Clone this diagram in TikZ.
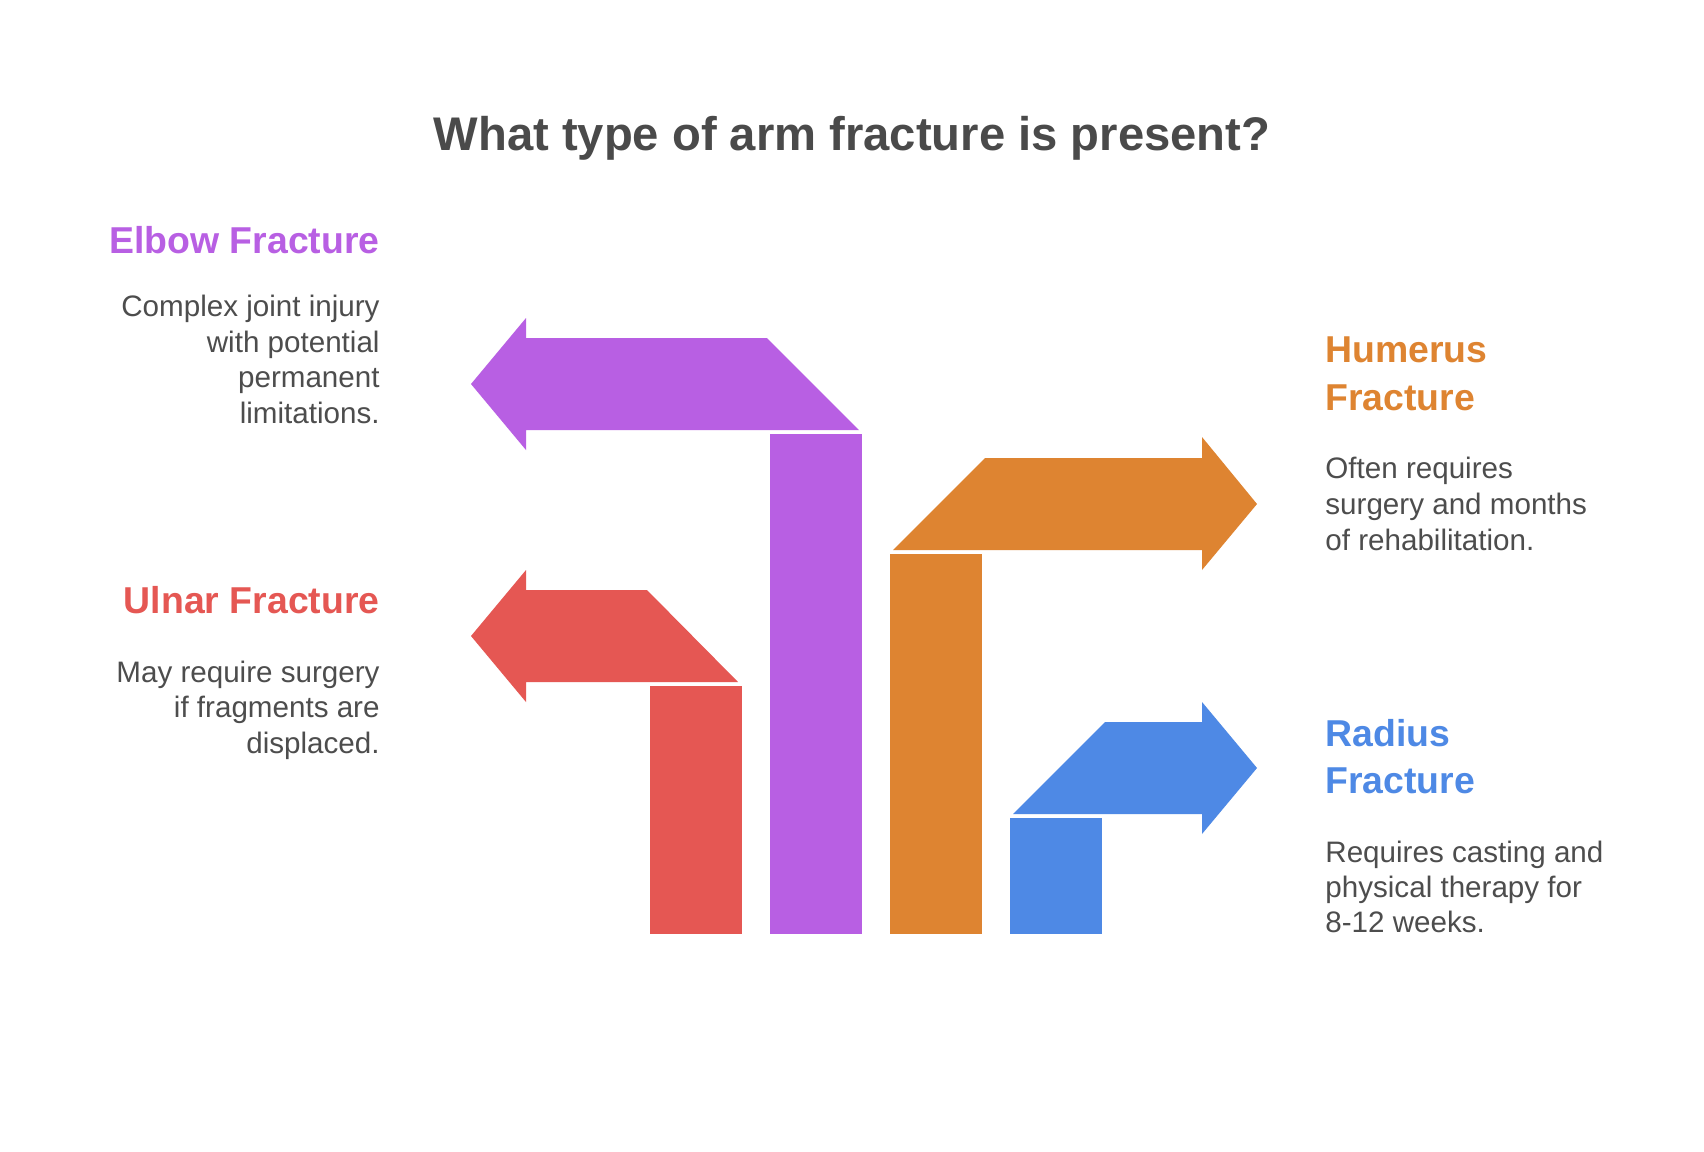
\documentclass[tikz,border=0pt]{standalone}
\usepackage{fontspec}
\setmainfont{Liberation Sans}
\definecolor{cpurple}{HTML}{B85FE3}
\definecolor{cred}{HTML}{E55753}
\definecolor{corange}{HTML}{DE8431}
\definecolor{cblue}{HTML}{4E89E5}
\definecolor{ctitle}{HTML}{4A4A4A}
\definecolor{cbody}{HTML}{4D4D4D}
\tikzset{
  titletext/.style={font=\fontsize{23.6}{28}\selectfont\bfseries, text=ctitle, inner sep=0pt},
  headtext/.style={font=\fontsize{18.7}{23}\selectfont\bfseries, inner sep=0pt},
  bodytext/.style={font=\fontsize{14.8}{18}\selectfont, text=cbody, inner sep=0pt},
  lefttext/.style={anchor=base east},
  righttext/.style={anchor=base west},
}
\begin{document}
\begin{tikzpicture}[x=0.5pt,y=-0.5pt]
\useasboundingbox[fill=white] (0,0) rectangle (1704,1152);
% title
\node[titletext, anchor=base] (title) at (852,150) {What type of arm fracture is present?};

% purple (elbow)
\fill[cpurple] (471,384) -- (526,318) -- (526,338) -- (767,338) -- (859,430) -- (526,430) -- (526,450) -- cycle;
\fill[cpurple] (770,434) rectangle (862,934);
% red (ulnar)
\fill[cred] (471,636) -- (526,570) -- (526,590) -- (647,590) -- (738,682) -- (526,682) -- (526,702) -- cycle;
\fill[cred] (650,686) rectangle (742,934);
% orange (humerus)
\fill[corange] (893,550) -- (985,458) -- (1202,458) -- (1202,437) -- (1257,504) -- (1202,570) -- (1202,550) -- cycle;
\fill[corange] (890,554) rectangle (982,934);
% blue (radius)
\fill[cblue] (1013,814) -- (1105,722) -- (1202,722) -- (1202,702) -- (1257,768) -- (1202,834) -- (1202,814) -- cycle;
\fill[cblue] (1010,818) rectangle (1102,934);

% Elbow text
\node[headtext, lefttext, text=cpurple] (elh) at (380,253) {Elbow Fracture};
\node[bodytext, lefttext] (elb1) at (380,316) {Complex joint injury};
\node[bodytext, lefttext] (elb2) at (380,352) {with potential};
\node[bodytext, lefttext] (elb3) at (380,387) {permanent};
\node[bodytext, lefttext] (elb4) at (380,423) {limitations.};

% Ulnar text
\node[headtext, lefttext, text=cred] (ulh) at (380,613) {Ulnar Fracture};
\node[bodytext, lefttext] (ulb1) at (380,682) {May require surgery};
\node[bodytext, lefttext] (ulb2) at (380,717) {if fragments are};
\node[bodytext, lefttext] (ulb3) at (380,753) {displaced.};

% Humerus text
\node[headtext, righttext, text=corange] (huh1) at (1325,362) {Humerus};
\node[headtext, righttext, text=corange] (huh2) at (1325,410) {Fracture};
\node[bodytext, righttext] (hub1) at (1325,478) {Often requires};
\node[bodytext, righttext] (hub2) at (1325,514) {surgery and months};
\node[bodytext, righttext] (hub3) at (1325,550) {of rehabilitation.};

% Radius text
\node[headtext, righttext, text=cblue] (rah1) at (1325,746) {Radius};
\node[headtext, righttext, text=cblue] (rah2) at (1325,793) {Fracture};
\node[bodytext, righttext] (rab1) at (1325,862) {Requires casting and};
\node[bodytext, righttext] (rab2) at (1325,897) {physical therapy for};
\node[bodytext, righttext] (rab3) at (1325,932) {8-12 weeks.};
\end{tikzpicture}
\end{document}
